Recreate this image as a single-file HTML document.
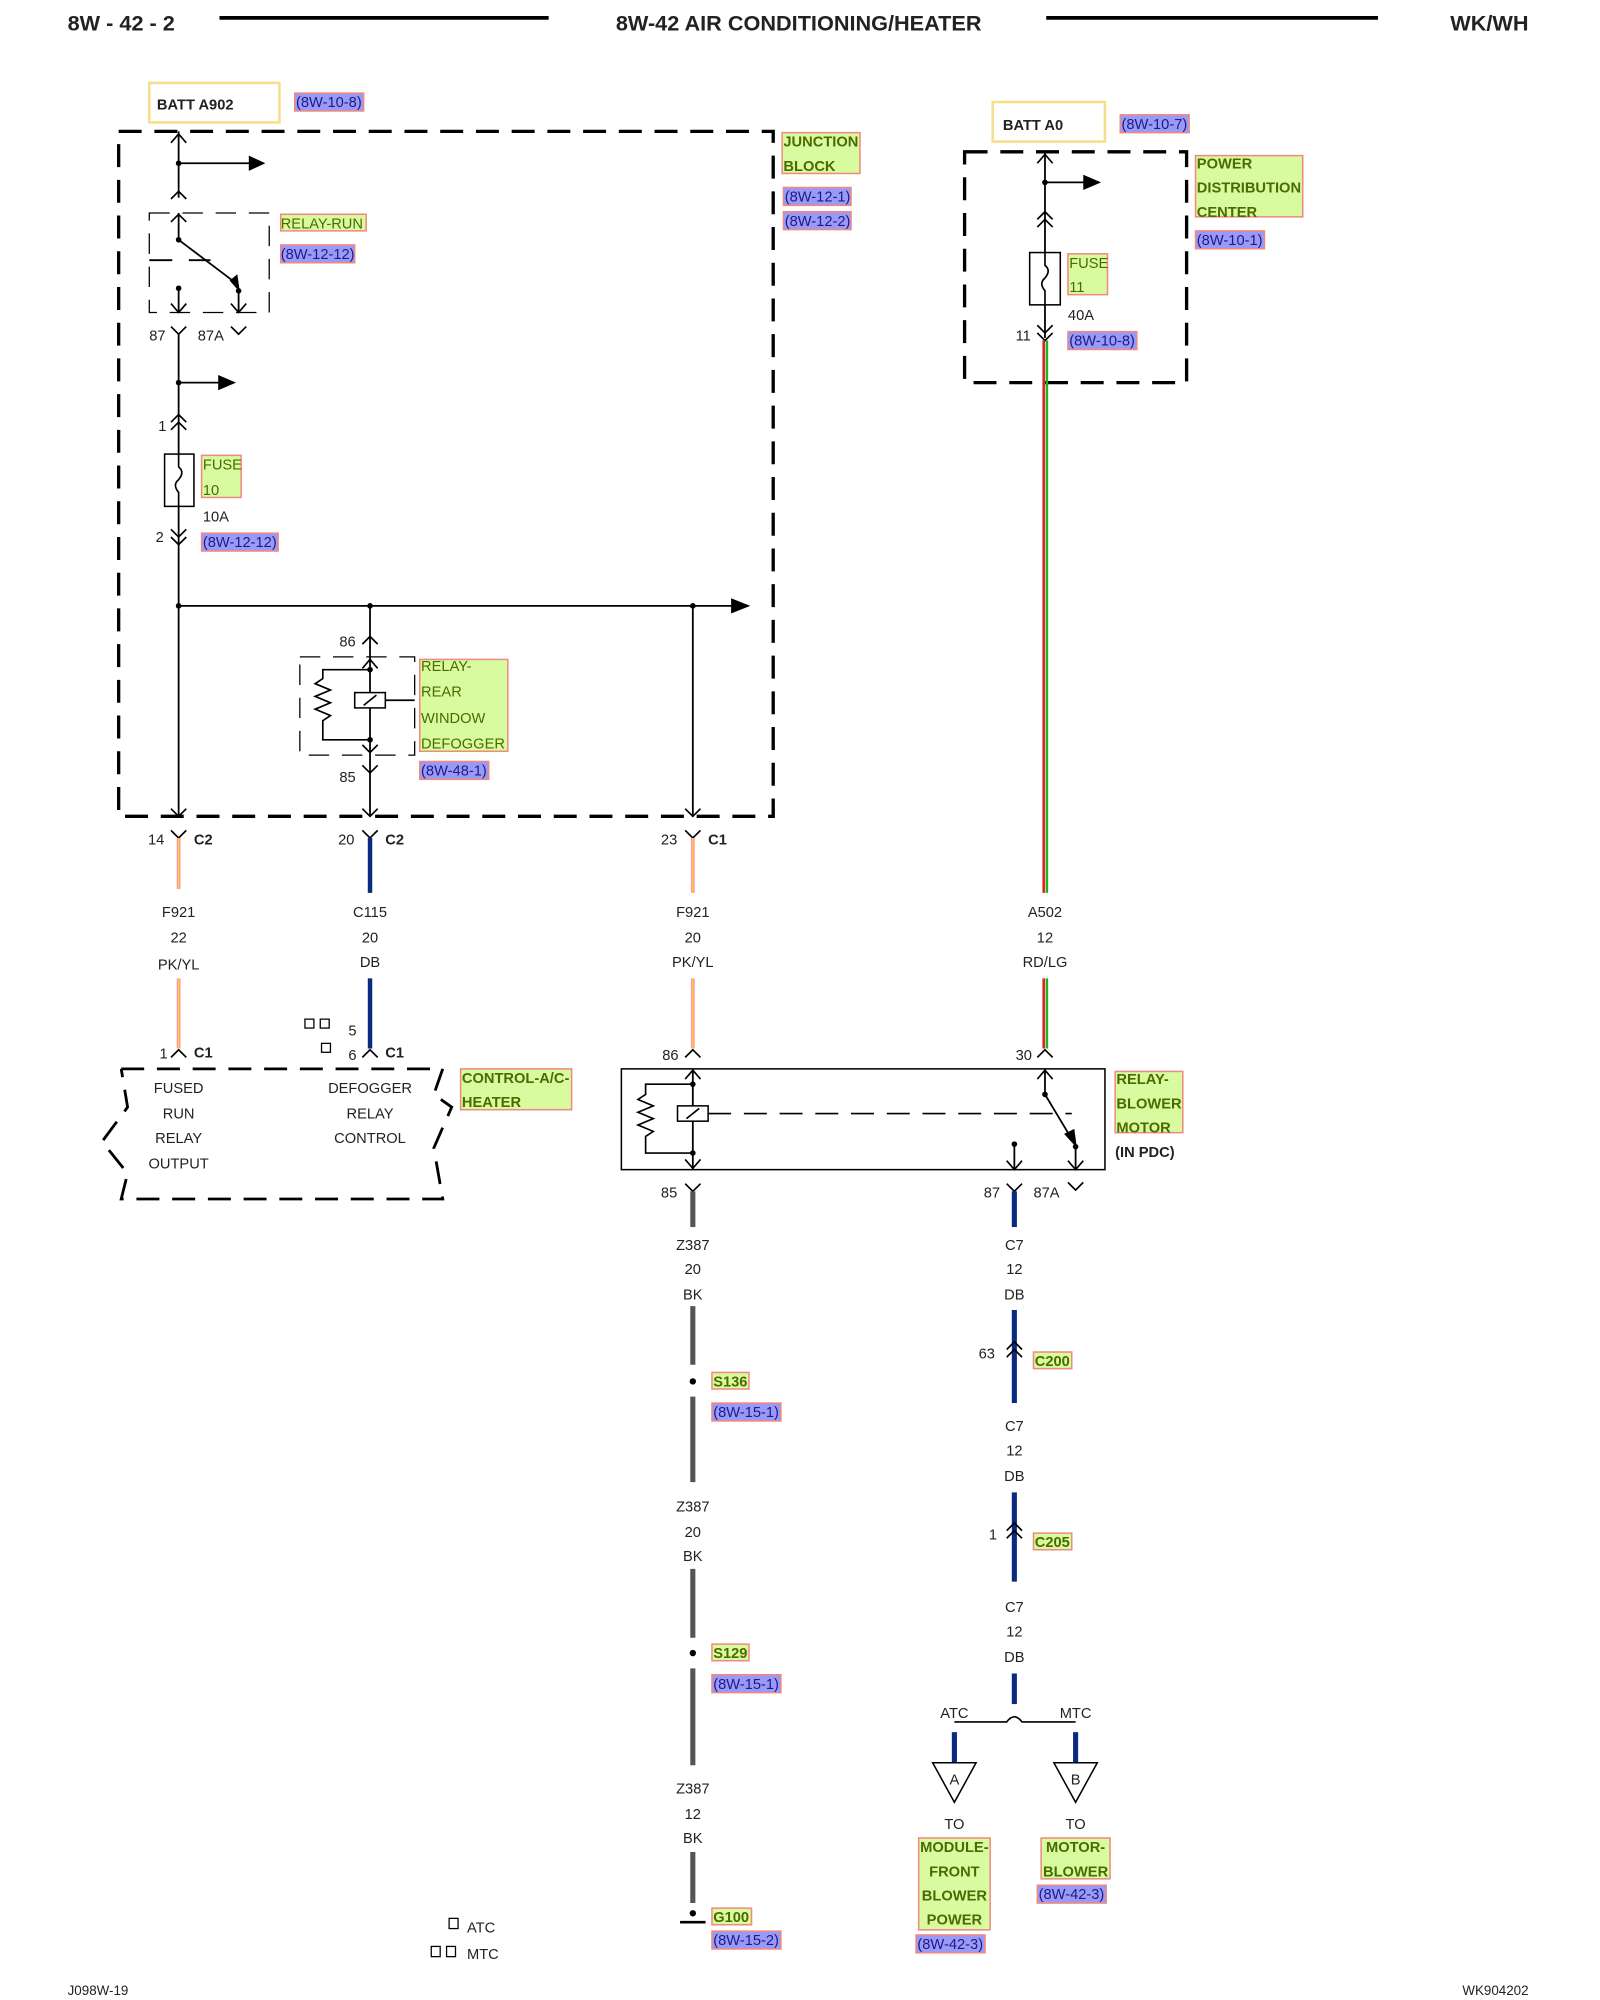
<!DOCTYPE html>
<html><head><meta charset="utf-8"><style>
html,body{margin:0;padding:0;background:#fff;}
svg{display:block;}
text{font-family:"Liberation Sans",Arial,sans-serif;font-size:11.5px;fill:#222;}
.b{font-weight:bold;}
.g{fill:#d9fb9f;stroke:#f08a80;stroke-width:1.2;}
.gt{fill:#4b6a00;}
.gb{fill:#4b6a00;font-weight:bold;}
.r{fill:#9a9af5;stroke:#f08a80;stroke-width:1.2;}
.rt{fill:#1a1a90;}
.w{stroke:#000;stroke-width:1.4;fill:none;}
.c{stroke:#000;stroke-width:1.3;fill:none;}
.d{stroke:#000;stroke-width:2.6;fill:none;stroke-dasharray:18,10;}
.dt{stroke:#000;stroke-width:1;fill:none;stroke-dasharray:16,10;}
</style></head><body>
<svg width="1600" height="2000" viewBox="0 0 1254 1568" preserveAspectRatio="none" xmlns="http://www.w3.org/2000/svg">
<!-- header -->
<text x="53" y="24" class="b" style="font-size:17px">8W - 42 - 2</text>
<line x1="172" y1="14" x2="430" y2="14" stroke="#000" stroke-width="3"/>
<text x="626" y="24" class="b" text-anchor="middle" style="font-size:17px">8W-42 AIR CONDITIONING/HEATER</text>
<line x1="820" y1="14" x2="1080" y2="14" stroke="#000" stroke-width="3"/>
<text x="1198" y="24" class="b" text-anchor="end" style="font-size:17px">WK/WH</text>

<!-- LEFT junction block -->
<rect x="117" y="65" width="102" height="31" fill="none" stroke="#f5df8a" stroke-width="2"/>
<text x="123" y="86" class="b">BATT A902</text>
<rect x="231" y="73" width="54" height="14" class="r"/><text x="232" y="84" class="rt">(8W-10-8)</text>
<rect x="93" y="103" width="513" height="537" class="d"/>
<rect x="613" y="104" width="61" height="32" class="g"/><text x="614" y="115" class="gb">JUNCTION</text><text x="614" y="134" class="gb">BLOCK</text>
<rect x="614" y="147" width="53" height="14" class="r"/><text x="615" y="158" class="rt">(8W-12-1)</text>
<rect x="614" y="166" width="53" height="14" class="r"/><text x="615" y="177" class="rt">(8W-12-2)</text>

<line x1="140" y1="103" x2="140" y2="155" class="w"/>
<polyline points="134,112 140,105 146,112" class="c"/>
<circle cx="140" cy="128" r="2.2"/><line x1="140" y1="128" x2="196" y2="128" class="w"/><polygon points="195,122 208,128 195,134"/>
<polyline points="134,156 140,150 146,156" class="c"/>
<rect x="117" y="167" width="94" height="78" class="dt"/>
<line x1="140" y1="167" x2="140" y2="188" class="w"/><polyline points="134,174 140,168 146,174" class="c"/>
<circle cx="140" cy="188" r="2.2"/><line x1="140" y1="188" x2="185" y2="222" class="w"/><polygon points="180,220 188,229 186,215"/>
<circle cx="187" cy="228" r="2.2"/><line x1="187" y1="228" x2="187" y2="245" class="w"/><polyline points="181,238 187,245 193,238" class="c"/>
<circle cx="140" cy="226" r="2.2"/><line x1="140" y1="226" x2="140" y2="245" class="w"/><polyline points="134,238 140,245 146,238" class="c"/>
<line x1="117" y1="204" x2="135" y2="204" class="w"/><line x1="148" y1="204" x2="165" y2="204" class="w"/>
<rect x="220" y="168" width="67" height="13" class="g"/><text x="220" y="179" class="gt">RELAY-RUN</text>
<rect x="220" y="192" width="58" height="14" class="r"/><text x="220" y="203" class="rt">(8W-12-12)</text>
<text x="117" y="267">87</text><polyline points="134,256 140,262 146,256" class="c"/>
<text x="155" y="267">87A</text><polyline points="181,256 187,262 193,256" class="c"/>
<line x1="140" y1="262" x2="140" y2="640" class="w"/>
<circle cx="140" cy="300" r="2.2"/><line x1="140" y1="300" x2="172" y2="300" class="w"/><polygon points="171,294 185,300 171,306"/>
<text x="124" y="338">1</text><polyline points="134,331 140,325 146,331" class="c"/><polyline points="134,337 140,331 146,337" class="c"/>
<rect x="129" y="356" width="23" height="41" fill="#fff" stroke="#000" stroke-width="1.2"/>
<path d="M140,356 v10 q5,4 0,10 q-5,4 0,10 v11" class="c"/>
<rect x="158" y="357" width="31" height="33" class="g"/><text x="159" y="368" class="gt">FUSE</text><text x="159" y="388" class="gt">10</text>
<text x="159" y="409">10A</text>
<text x="122" y="425">2</text><polyline points="134,415 140,421 146,415" class="c"/><polyline points="134,421 140,427 146,421" class="c"/>
<rect x="158" y="418" width="60" height="14" class="r"/><text x="159" y="429" class="rt">(8W-12-12)</text>
<line x1="140" y1="475" x2="574" y2="475" class="w"/><polygon points="573,469 588,475 573,481"/>
<circle cx="140" cy="475" r="2.2"/><circle cx="290" cy="475" r="2.2"/><circle cx="543" cy="475" r="2.2"/>
<line x1="290" y1="475" x2="290" y2="640" class="w"/>
<text x="266" y="507">86</text><polyline points="284,505 290,499 296,505" class="c"/>
<rect x="235" y="515" width="90" height="77" class="dt"/>
<polyline points="284,524 290,517 296,524" class="c"/>
<circle cx="290" cy="525" r="2.2"/><circle cx="290" cy="580" r="2.2"/>
<polyline points="290,525 253,525 253,532 247,536 259,541 247,546 259,551 247,556 259,561 253,565 253,580 290,580" class="c"/>
<rect x="278" y="543" width="24" height="12" fill="#fff" stroke="#000" stroke-width="1.2"/><line x1="285" y1="553" x2="295" y2="545" class="c"/>
<line x1="302" y1="549" x2="325" y2="549" class="c"/>
<polyline points="284,584 290,590 296,584" class="c"/>
<text x="266" y="613">85</text><polyline points="284,600 290,606 296,600" class="c"/>
<rect x="329" y="517" width="69" height="72" class="g"/>
<text x="330" y="526" class="gt">RELAY-</text><text x="330" y="546" class="gt">REAR</text><text x="330" y="567" class="gt">WINDOW</text><text x="330" y="587" class="gt">DEFOGGER</text>
<rect x="329" y="597" width="54" height="14" class="r"/><text x="330" y="608" class="rt">(8W-48-1)</text>
<line x1="543" y1="475" x2="543" y2="640" class="w"/>
<polyline points="134,634 140,640 146,634" class="c"/><polyline points="284,634 290,640 296,634" class="c"/><polyline points="537,634 543,640 549,634" class="c"/>

<!-- below block connectors -->
<text x="116" y="662">14</text><polyline points="134,651 140,657 146,651" class="c"/><text x="152" y="662" class="b">C2</text>
<text x="265" y="662">20</text><polyline points="284,651 290,657 296,651" class="c"/><text x="302" y="662" class="b">C2</text>
<text x="518" y="662">23</text><polyline points="537,651 543,657 549,651" class="c"/><text x="555" y="662" class="b">C1</text>
<line x1="140" y1="657" x2="140" y2="697" stroke="#ff9aa0" stroke-width="3"/><line x1="140" y1="657" x2="140" y2="697" stroke="#f0d040" stroke-width="1"/>
<line x1="290" y1="657" x2="290" y2="700" stroke="#0a2a80" stroke-width="3.5"/>
<line x1="543" y1="657" x2="543" y2="700" stroke="#ff9aa0" stroke-width="3"/><line x1="543" y1="657" x2="543" y2="700" stroke="#f0d040" stroke-width="1"/>
<g text-anchor="middle">
<text x="140" y="719">F921</text><text x="140" y="739">22</text><text x="140" y="760">PK/YL</text>
<text x="290" y="719">C115</text><text x="290" y="739">20</text><text x="290" y="758">DB</text>
<text x="543" y="719">F921</text><text x="543" y="739">20</text><text x="543" y="758">PK/YL</text>
<text x="819" y="719">A502</text><text x="819" y="739">12</text><text x="819" y="758">RD/LG</text>
</g>
<line x1="140" y1="767" x2="140" y2="822" stroke="#ff9aa0" stroke-width="3"/><line x1="140" y1="767" x2="140" y2="822" stroke="#f0d040" stroke-width="1"/>
<line x1="290" y1="767" x2="290" y2="822" stroke="#0a2a80" stroke-width="3.5"/>
<line x1="543" y1="767" x2="543" y2="822" stroke="#ff9aa0" stroke-width="3"/><line x1="543" y1="767" x2="543" y2="822" stroke="#f0d040" stroke-width="1"/>
<line x1="818" y1="767" x2="818" y2="822" stroke="#e02020" stroke-width="2"/><line x1="820.5" y1="767" x2="820.5" y2="822" stroke="#20b020" stroke-width="2"/>

<!-- control a/c heater -->
<text x="125" y="830">1</text><polyline points="134,829 140,823 146,829" class="c"/><text x="152" y="829" class="b">C1</text>
<rect x="239" y="799" width="7" height="7" fill="none" stroke="#000"/><rect x="251" y="799" width="7" height="7" fill="none" stroke="#000"/>
<rect x="252" y="818" width="7" height="7" fill="none" stroke="#000"/>
<text x="273" y="812">5</text><text x="273" y="831">6</text>
<polyline points="284,829 290,823 296,829" class="c"/><text x="302" y="829" class="b">C1</text>
<path d="M95,838 H347 L340,858 L354,868 L340,900 L347,940 H95 L100,920 L80,895 L100,868 L95,838" class="d" style="stroke-width:2.2"/>
<g text-anchor="middle">
<text x="140" y="857">FUSED</text><text x="140" y="877">RUN</text><text x="140" y="896">RELAY</text><text x="140" y="916">OUTPUT</text>
<text x="290" y="857">DEFOGGER</text><text x="290" y="877">RELAY</text><text x="290" y="896">CONTROL</text>
</g>
<rect x="361" y="838" width="87" height="32" class="g"/><text x="362" y="849" class="gb">CONTROL-A/C-</text><text x="362" y="868" class="gb">HEATER</text>

<!-- relay blower motor -->
<text x="519" y="831">86</text><polyline points="537,829 543,823 549,829" class="c"/>
<text x="796" y="831">30</text><polyline points="813,829 819,823 825,829" class="c"/>
<rect x="487" y="838" width="379" height="79" fill="none" stroke="#000" stroke-width="1.2"/>
<line x1="543" y1="838" x2="543" y2="917" class="w"/><polyline points="537,846 543,839 549,846" class="c"/><polyline points="537,909 543,916 549,909" class="c"/>
<circle cx="543" cy="850" r="2.2"/><circle cx="543" cy="904" r="2.2"/>
<polyline points="543,850 506,850 506,858 500,862 512,867 500,872 512,877 500,882 512,887 506,891 506,904 543,904" class="c"/>
<rect x="531" y="867" width="24" height="12" fill="#fff" stroke="#000" stroke-width="1.2"/><line x1="538" y1="877" x2="548" y2="869" class="c"/>
<line x1="555" y1="873" x2="840" y2="873" class="c" style="stroke-dasharray:18,10"/>
<line x1="819" y1="838" x2="819" y2="858" class="w"/><polyline points="813,846 819,839 825,846" class="c"/>
<circle cx="819" cy="858" r="2.2"/><line x1="819" y1="858" x2="840" y2="893" class="w"/><polygon points="834,889 844,900 842,885"/>
<circle cx="843" cy="899" r="2.2"/><line x1="843" y1="899" x2="843" y2="917" class="w"/><polyline points="837,910 843,917 849,910" class="c"/>
<circle cx="795" cy="897" r="2.2"/><line x1="795" y1="897" x2="795" y2="917" class="w"/><polyline points="789,910 795,917 801,910" class="c"/>
<rect x="874" y="840" width="53" height="48" class="g"/><text x="875" y="850" class="gb">RELAY-</text><text x="875" y="869" class="gb">BLOWER</text><text x="875" y="888" class="gb">MOTOR</text>
<text x="874" y="907" class="b">(IN PDC)</text>
<text x="518" y="939">85</text><polyline points="537,928 543,934 549,928" class="c"/>
<text x="771" y="939">87</text><polyline points="789,928 795,934 801,928" class="c"/>
<text x="810" y="939">87A</text><polyline points="837,927 843,933 849,927" class="c"/>

<!-- ground wire -->
<g stroke="#555" stroke-width="4">
<line x1="543" y1="934" x2="543" y2="962"/><line x1="543" y1="1024" x2="543" y2="1070"/><line x1="543" y1="1095" x2="543" y2="1162"/>
<line x1="543" y1="1230" x2="543" y2="1284"/><line x1="543" y1="1308" x2="543" y2="1384"/><line x1="543" y1="1452" x2="543" y2="1492"/>
</g>
<g text-anchor="middle">
<text x="543" y="980">Z387</text><text x="543" y="999">20</text><text x="543" y="1019">BK</text>
<text x="543" y="1185">Z387</text><text x="543" y="1205">20</text><text x="543" y="1224">BK</text>
<text x="543" y="1406">Z387</text><text x="543" y="1426">12</text><text x="543" y="1445">BK</text>
</g>
<circle cx="543" cy="1083" r="2.5"/><circle cx="543" cy="1296" r="2.5"/>
<rect x="558" y="1076" width="29" height="13" class="g"/><text x="559" y="1087" class="gb">S136</text>
<rect x="558" y="1100" width="54" height="14" class="r"/><text x="559" y="1111" class="rt">(8W-15-1)</text>
<rect x="558" y="1289" width="29" height="13" class="g"/><text x="559" y="1300" class="gb">S129</text>
<rect x="558" y="1313" width="54" height="14" class="r"/><text x="559" y="1324" class="rt">(8W-15-1)</text>
<circle cx="543" cy="1500" r="2.5"/><line x1="533" y1="1507" x2="553" y2="1507" stroke="#000" stroke-width="2"/>
<rect x="558" y="1496" width="31" height="13" class="g"/><text x="559" y="1507" class="gb">G100</text>
<rect x="558" y="1514" width="54" height="14" class="r"/><text x="559" y="1525" class="rt">(8W-15-2)</text>

<!-- DB wire -->
<g stroke="#0a2a80" stroke-width="4">
<line x1="795" y1="934" x2="795" y2="962"/><line x1="795" y1="1027" x2="795" y2="1100"/><line x1="795" y1="1170" x2="795" y2="1240"/><line x1="795" y1="1312" x2="795" y2="1336"/>
<line x1="748" y1="1358" x2="748" y2="1382"/><line x1="843" y1="1358" x2="843" y2="1382"/>
</g>
<g text-anchor="middle">
<text x="795" y="980">C7</text><text x="795" y="999">12</text><text x="795" y="1019">DB</text>
<text x="795" y="1122">C7</text><text x="795" y="1141">12</text><text x="795" y="1161">DB</text>
<text x="795" y="1264">C7</text><text x="795" y="1283">12</text><text x="795" y="1303">DB</text>
</g>
<polyline points="789,1058 795,1052 801,1058" class="c"/><polyline points="789,1064 795,1058 801,1064" class="c"/><text x="767" y="1065">63</text>
<rect x="810" y="1060" width="30" height="13" class="g"/><text x="811" y="1071" class="gb">C200</text>
<polyline points="789,1200 795,1194 801,1200" class="c"/><polyline points="789,1206 795,1200 801,1206" class="c"/><text x="775" y="1207">1</text>
<rect x="810" y="1202" width="30" height="13" class="g"/><text x="811" y="1213" class="gb">C205</text>
<path d="M748,1350 H789 Q795,1342 801,1350 H843" class="c"/>
<text x="748" y="1347" text-anchor="middle">ATC</text><text x="843" y="1347" text-anchor="middle">MTC</text>
<polygon points="731,1382 765,1382 748,1413" fill="#fff" stroke="#000" stroke-width="1.2"/><text x="748" y="1399" text-anchor="middle">A</text>
<polygon points="826,1382 860,1382 843,1413" fill="#fff" stroke="#000" stroke-width="1.2"/><text x="843" y="1399" text-anchor="middle">B</text>
<text x="748" y="1434" text-anchor="middle">TO</text><text x="843" y="1434" text-anchor="middle">TO</text>
<rect x="720" y="1441" width="56" height="72" class="g"/>
<g text-anchor="middle"><text x="748" y="1452" class="gb">MODULE-</text><text x="748" y="1471" class="gb">FRONT</text><text x="748" y="1490" class="gb">BLOWER</text><text x="748" y="1509" class="gb">POWER</text></g>
<rect x="718" y="1517" width="54" height="14" class="r"/><text x="719" y="1528" class="rt">(8W-42-3)</text>
<rect x="816" y="1441" width="54" height="32" class="g"/>
<g text-anchor="middle"><text x="843" y="1452" class="gb">MOTOR-</text><text x="843" y="1471" class="gb">BLOWER</text></g>
<rect x="813" y="1478" width="54" height="14" class="r"/><text x="814" y="1489" class="rt">(8W-42-3)</text>

<!-- right PDC -->
<rect x="778" y="80" width="88" height="31" fill="none" stroke="#f5df8a" stroke-width="2"/>
<text x="786" y="102" class="b">BATT A0</text>
<rect x="878" y="90" width="54" height="14" class="r"/><text x="879" y="101" class="rt">(8W-10-7)</text>
<rect x="756" y="119" width="174" height="181" class="d"/>
<line x1="819" y1="119" x2="819" y2="265" class="w"/>
<polyline points="813,128 819,121 825,128" class="c"/>
<circle cx="819" cy="143" r="2.2"/><line x1="819" y1="143" x2="850" y2="143" class="w"/><polygon points="849,137 863,143 849,149"/>
<polyline points="813,172 819,166 825,172" class="c"/><polyline points="813,178 819,172 825,178" class="c"/>
<rect x="807" y="198" width="24" height="41" fill="#fff" stroke="#000" stroke-width="1.2"/>
<path d="M819,198 v10 q5,4 0,10 q-5,4 0,10 v11" class="c"/>
<rect x="837" y="199" width="31" height="32" class="g"/><text x="838" y="210" class="gt">FUSE</text><text x="838" y="229" class="gt">11</text>
<text x="837" y="251">40A</text>
<text x="796" y="267">11</text><polyline points="813,255 819,261 825,255" class="c"/><polyline points="813,261 819,267 825,261" class="c"/>
<rect x="837" y="260" width="54" height="14" class="r"/><text x="838" y="271" class="rt">(8W-10-8)</text>
<line x1="818" y1="267" x2="818" y2="700" stroke="#e02020" stroke-width="2"/><line x1="820.5" y1="267" x2="820.5" y2="700" stroke="#20b020" stroke-width="2"/>
<rect x="937" y="122" width="84" height="48" class="g"/><text x="938" y="132" class="gb">POWER</text><text x="938" y="151" class="gb">DISTRIBUTION</text><text x="938" y="170" class="gb">CENTER</text>
<rect x="937" y="181" width="54" height="14" class="r"/><text x="938" y="192" class="rt">(8W-10-1)</text>

<!-- legend/footer -->
<rect x="352" y="1504" width="7" height="8" fill="none" stroke="#000"/><text x="366" y="1515">ATC</text>
<rect x="338" y="1526" width="7" height="8" fill="none" stroke="#000"/><rect x="350" y="1526" width="7" height="8" fill="none" stroke="#000"/><text x="366" y="1536">MTC</text>
<text x="53" y="1564" style="font-size:10.5px">J098W-19</text>
<text x="1198" y="1564" text-anchor="end" style="font-size:10.5px">WK904202</text>
</svg>
</body></html>
